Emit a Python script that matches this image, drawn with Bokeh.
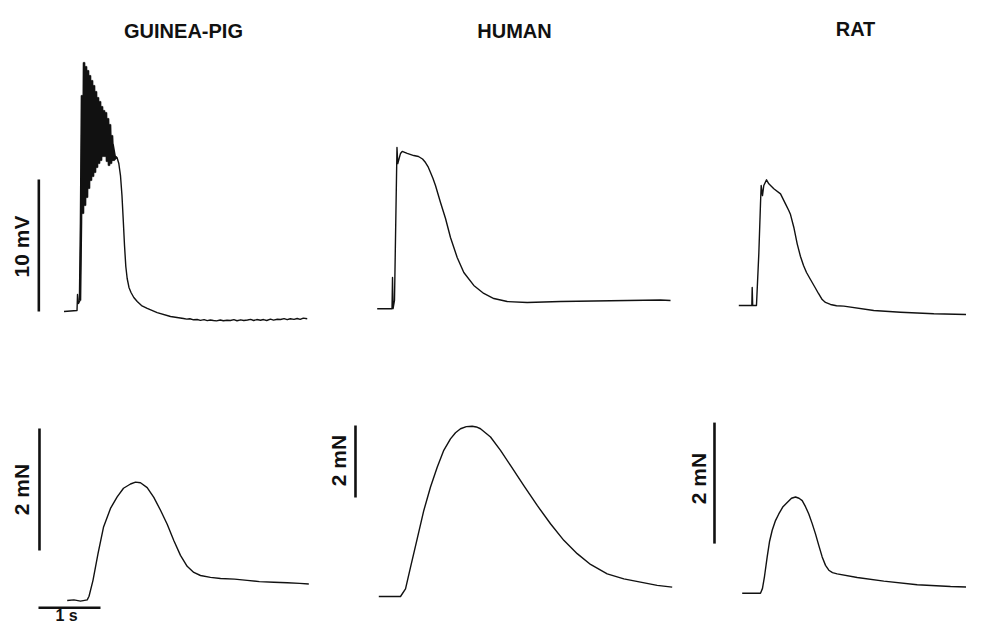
import math
from bokeh.plotting import figure
from bokeh.models import Range1d, Label
from bokeh.embed import file_html
from bokeh.resources import INLINE

# ---------------- data (time in s from trace start) ----------------
# Guinea-pig membrane potential (mV, relative to resting level)
gp_mv_t = [0.000, 0.105, 0.210, 0.218, 0.234, 0.258,
           0.274, 0.290, 0.306, 0.323, 0.339, 0.355, 0.371, 0.387, 0.403, 0.419,
           0.435, 0.452, 0.468, 0.484, 0.500, 0.516, 0.532, 0.548, 0.565, 0.581,
           0.597, 0.613, 0.629, 0.645, 0.661, 0.677, 0.694, 0.710, 0.726, 0.742,
           0.758, 0.774, 0.790, 0.806, 0.823, 0.839,
           0.855, 0.884, 0.911, 0.935, 0.956, 0.976, 0.997, 1.019, 1.048, 1.081,
           1.126, 1.181, 1.250, 1.342, 1.503, 1.718,
           1.927, 1.98, 2.03, 2.09, 2.148, 2.20, 2.26, 2.31, 2.36, 2.411, 2.46,
           2.52, 2.57, 2.63, 2.685, 2.74, 2.79, 2.85, 2.90, 2.960, 3.01, 3.06,
           3.11, 3.17, 3.218, 3.27, 3.33, 3.38, 3.44, 3.492, 3.55, 3.60, 3.65,
           3.71, 3.761, 3.81, 3.86, 3.923]
gp_mv = [0.00, 0.04, 0.08, 1.29, 0.61, 0.83,
         6.74, 16.36, 7.42, 18.86, 8.03, 18.56, 8.64, 18.26, 9.32, 17.88,
         9.92, 17.50, 10.23, 17.12, 10.53, 16.67, 10.91, 16.21, 11.21, 15.91,
         11.44, 15.53, 11.74, 15.23, 11.74, 15.08, 11.36, 14.62, 11.06, 14.17,
         11.21, 13.33, 11.44, 12.05, 11.59, 11.67,
         11.67, 11.21, 10.30, 8.79, 6.89, 5.00, 3.41, 2.50, 1.82, 1.44,
         1.06, 0.76, 0.45, 0.23, -0.08, -0.38,
         -0.53, -0.58, -0.55, -0.63, -0.61, -0.67, -0.62, -0.69, -0.64, -0.68, -0.71,
         -0.64, -0.70, -0.66, -0.68, -0.62, -0.70, -0.63, -0.68, -0.64, -0.60, -0.68,
         -0.61, -0.66, -0.61, -0.68, -0.58, -0.65, -0.59, -0.61, -0.54, -0.62, -0.55,
         -0.60, -0.53, -0.60, -0.50, -0.55]
GP_BURST = slice(5, 43)   # index span of the oscillatory burst

# Human membrane potential (mV)
hu_mv_t = [0.000, 0.239, 0.247, 0.256, 0.279, 0.319, 0.332, 0.376, 0.403, 0.484,
           0.590, 0.666, 0.731, 0.779, 0.819, 0.860, 0.900, 0.940, 1.021, 1.102,
           1.182, 1.290, 1.397, 1.558, 1.719, 1.881, 2.097, 2.419, 2.956, 3.494,
           4.032, 4.569, 4.731]
hu_mv = [0.00, 0.00, 2.37, 0.02, 0.63, 12.22, 11.01, 11.77, 11.92, 11.77,
         11.61, 11.54, 11.35, 11.08, 10.78, 10.33, 9.87, 9.34, 8.05, 6.84,
         5.40, 3.89, 2.75, 1.77, 1.16, 0.78, 0.55, 0.48, 0.55, 0.59,
         0.63, 0.67, 0.63]

# Rat membrane potential (mV)
rat_mv_t = [0.000, 0.210, 0.216, 0.224, 0.285, 0.323, 0.350, 0.361, 0.382, 0.403,
            0.447, 0.484, 0.565, 0.673, 0.753, 0.806, 0.834, 0.887, 0.942, 0.995,
            1.044, 1.092, 1.156, 1.221, 1.285, 1.345, 1.398, 1.479, 1.576, 1.694,
            2.177, 2.608, 3.145, 3.786]
rat_mv = [0.00, 0.00, 1.36, 0.00, 0.00, 3.94, 7.73, 9.09, 8.33, 9.09,
          9.52, 9.22, 8.84, 8.46, 7.70, 7.20, 6.89, 5.93, 4.67, 3.71,
          3.03, 2.50, 1.97, 1.44, 0.91, 0.45, 0.23, 0.08, -0.02, -0.05,
          -0.38, -0.51, -0.63, -0.70]

# Guinea-pig force (mN)
gp_mn_t = [0.000, 0.108, 0.215, 0.323, 0.352, 0.416, 0.497, 0.585, 0.698, 0.806,
           0.908, 1.021, 1.102, 1.182, 1.290, 1.397, 1.505, 1.613, 1.721, 1.827,
           1.935, 2.042, 2.150, 2.311, 2.473, 2.70, 2.903, 3.10, 3.332, 3.55,
           3.75, 3.897]
gp_mn = [0.00, 0.01, -0.01, 0.01, 0.07, 0.33, 0.77, 1.20, 1.51, 1.70,
         1.84, 1.91, 1.94, 1.93, 1.85, 1.69, 1.48, 1.25, 0.98, 0.74,
         0.56, 0.46, 0.41, 0.38, 0.36, 0.35, 0.33, 0.31, 0.30, 0.29,
         0.28, 0.27]

# Human force (mN)
hu_mn_t = [0.000, 0.350, 0.431, 0.511, 0.619, 0.726, 0.834, 0.942, 1.048, 1.156,
           1.237, 1.318, 1.412, 1.506, 1.573, 1.640, 1.802, 1.963, 2.124, 2.339,
           2.555, 2.769, 2.984, 3.200, 3.415, 3.684, 3.952, 4.221, 4.490, 4.732]
hu_mn = [0.00, 0.00, 0.21, 0.81, 1.60, 2.39, 3.04, 3.59, 4.06, 4.38,
         4.55, 4.66, 4.72, 4.73, 4.71, 4.66, 4.43, 4.06, 3.64, 3.08,
         2.53, 2.02, 1.56, 1.19, 0.89, 0.63, 0.49, 0.40, 0.31, 0.26]

# Rat force (mN)
rat_mn_t = [0.000, 0.295, 0.327, 0.360, 0.403, 0.440, 0.484, 0.537, 0.590, 0.658,
            0.726, 0.795, 0.860, 0.916, 0.968, 1.021, 1.074, 1.129, 1.182, 1.235,
            1.290, 1.344, 1.397, 1.456, 1.532, 1.855, 2.284, 2.823, 3.360, 3.731]
rat_mn = [0.00, 0.00, 0.08, 0.28, 0.60, 0.85, 1.04, 1.20, 1.31, 1.43,
          1.50, 1.57, 1.59, 1.57, 1.53, 1.43, 1.31, 1.15, 0.98, 0.79,
          0.60, 0.46, 0.38, 0.34, 0.32, 0.26, 0.20, 0.14, 0.11, 0.10]

titles = ["GUINEA-PIG", "HUMAN", "RAT"]
bar_mv = 10.0   # mV scale bar
bar_mn = 2.0    # mN scale bar
bar_s = 1.0     # time scale bar
bar_mv_label = "10 mV"
bar_mn_label = "2 mN"
bar_s_label = "1 s"

# ---------------- layout ----------------
W, H = 966, 626
PX_PER_S = 62.0

# per panel: (pixel x of t=0, pixel y of zero level, px per unit)
panels = {
    "gp_mv": (63.5, 311.0, 13.2),
    "hu_mv": (376.7, 308.3, 13.2),
    "rat_mv": (738.3, 305.0, 13.2),
    "gp_mn": (66.7, 600.0, 61.0),
    "hu_mn": (378.3, 596.0, 36.0),
    "rat_mn": (741.7, 592.7, 60.5),
}

p = figure(width=W, height=H, x_axis_type=None, y_axis_type=None,
           x_range=Range1d(0, W), y_range=Range1d(0, H),
           toolbar_location=None, output_backend="svg", min_border=0)
p.outline_line_color = None
p.background_fill_color = "white"
p.border_fill_color = "white"
p.xgrid.visible = False
p.ygrid.visible = False

for name, (x0, y0, ppu) in panels.items():
    p.extra_x_ranges[name] = Range1d(-x0 / PX_PER_S, (W - x0) / PX_PER_S)
    p.extra_y_ranges[name] = Range1d((y0 - H) / ppu, y0 / ppu)

INK = "#111111"
traces = [("gp_mv", gp_mv_t, gp_mv), ("hu_mv", hu_mv_t, hu_mv), ("rat_mv", rat_mv_t, rat_mv),
          ("gp_mn", gp_mn_t, gp_mn), ("hu_mn", hu_mn_t, hu_mn), ("rat_mn", rat_mn_t, rat_mn)]
for name, t, v in traces:
    p.line(t, v, x_range_name=name, y_range_name=name, line_color=INK,
           line_width=1.4, line_join="round")

# the dense burst reads as a solid black band in the reference
p.line(gp_mv_t[GP_BURST], gp_mv[GP_BURST], x_range_name="gp_mv", y_range_name="gp_mv",
       line_color=INK, line_width=2.6, line_join="miter")

# scale bars (positions in panel units, lengths from the scale values)
BW = 2.6
p.line([-0.406, -0.406], [0.0, bar_mv], x_range_name="gp_mv", y_range_name="gp_mv",
       line_color=INK, line_width=BW)
p.line([-0.447, -0.447], [0.82, 0.82 + bar_mn], x_range_name="gp_mn", y_range_name="gp_mn",
       line_color=INK, line_width=BW)
p.line([-0.376, -0.376], [2.75, 2.75 + bar_mn], x_range_name="hu_mn", y_range_name="hu_mn",
       line_color=INK, line_width=BW)
p.line([-0.447, -0.447], [0.82, 0.82 + bar_mn], x_range_name="rat_mn", y_range_name="rat_mn",
       line_color=INK, line_width=BW)
p.line([-0.463, -0.463 + bar_s], [-0.12, -0.12], x_range_name="gp_mn", y_range_name="gp_mn",
       line_color=INK, line_width=BW)

FONT = "Liberation Sans"

def lab(text, ix, iy, angle=0.0, size="21px", baseline="middle"):
    p.add_layout(Label(x=ix, y=H - iy, x_units="screen", y_units="screen",
                       text=text, angle=angle, text_align="center", text_baseline=baseline,
                       text_font=FONT, text_font_style="bold", text_font_size=size,
                       text_color=INK))

for txt, cx, cy in zip(titles, [183, 514, 855], [30, 30, 28]):
    lab(txt, cx, cy, size="20px")

lab(bar_mv_label, 21, 246, angle=math.pi / 2)
lab(bar_mn_label, 21, 489, angle=math.pi / 2)
lab(bar_mn_label, 338, 460, angle=math.pi / 2)
lab(bar_mn_label, 698, 478, angle=math.pi / 2)
lab(bar_s_label, 66, 615, size="16px", baseline="middle")

open("out.html", "w").write(file_html(p, INLINE))
